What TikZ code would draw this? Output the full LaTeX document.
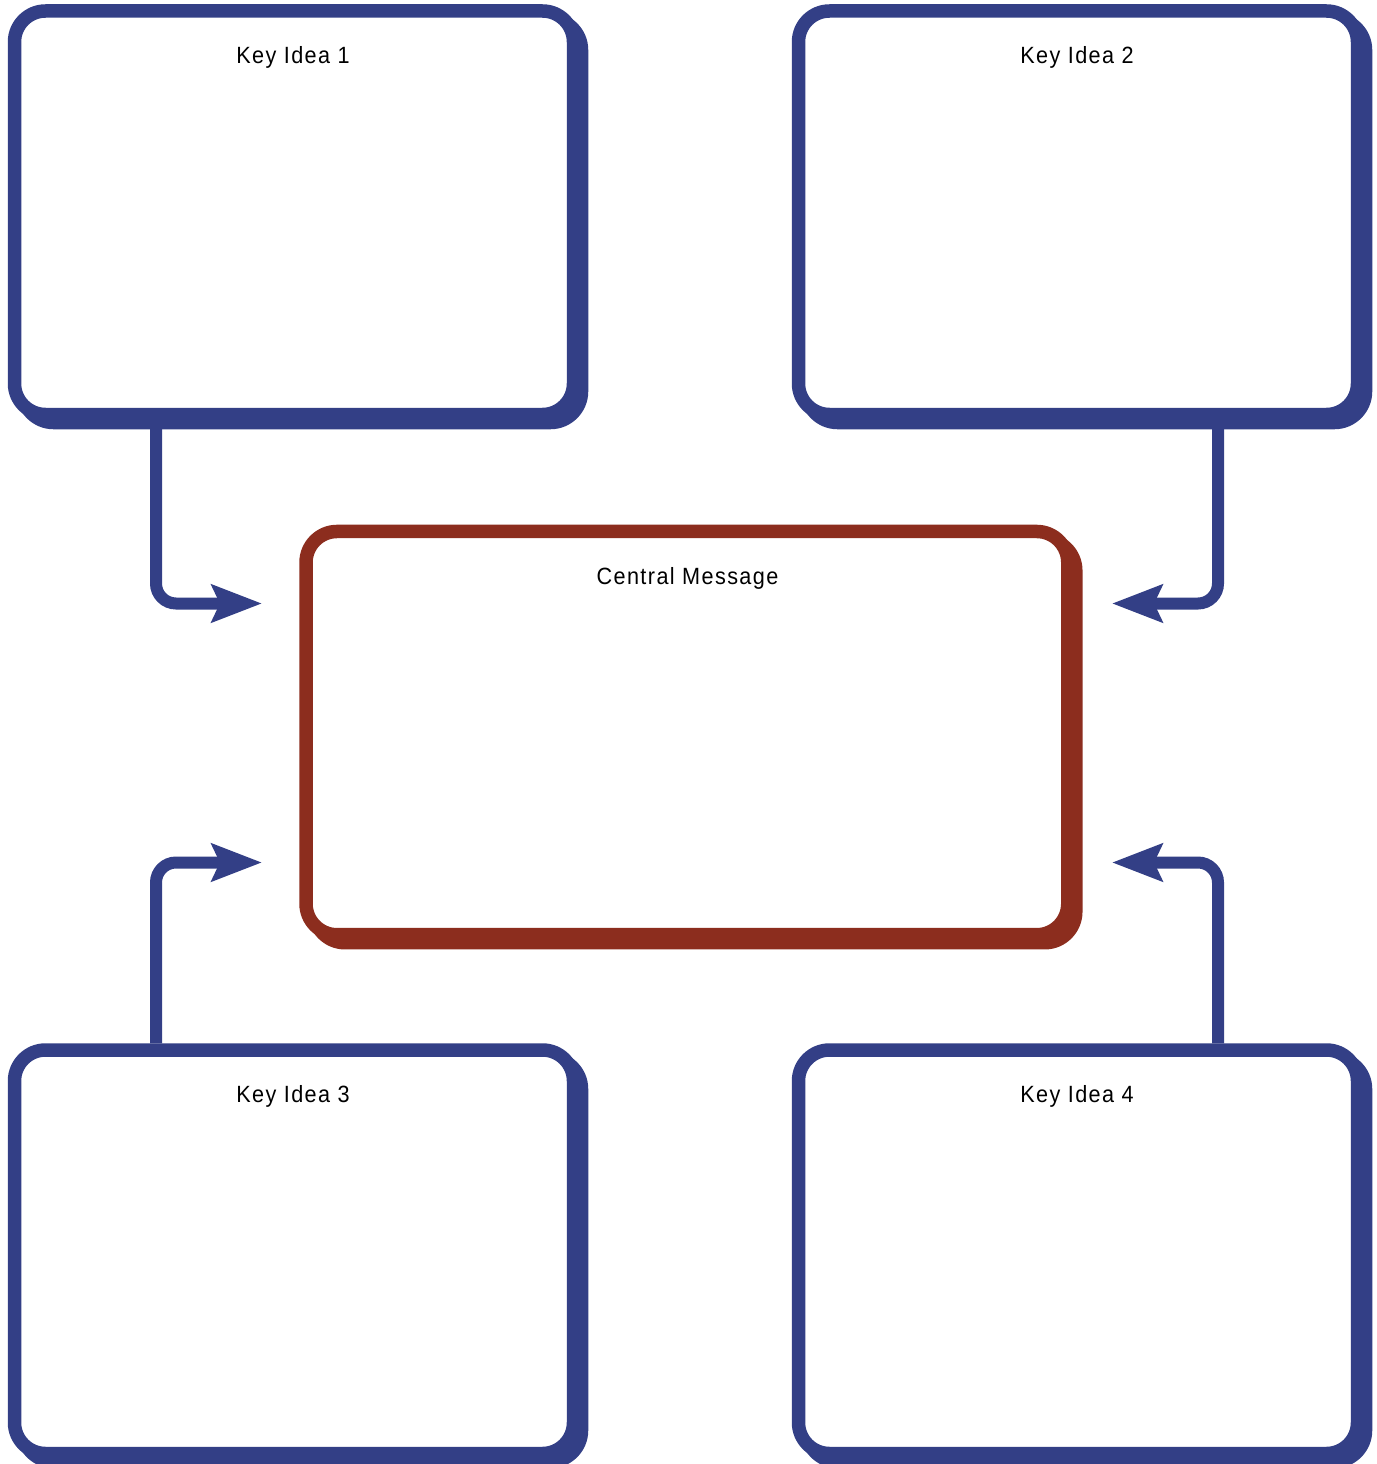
\documentclass[tikz,border=0pt]{standalone}
\usepackage{fontspec}
\setmainfont{Liberation Sans}[FakeStretch=0.92,LetterSpace=6]
\usetikzlibrary{arrows.meta}
\definecolor{ideablue}{HTML}{333F86}
\definecolor{msgred}{HTML}{8C2D1E}
\tikzset{
  shadowed/.style={preaction={draw=#1, line width=13.5pt, transform canvas={shift={(8pt,-8pt)}}}},
  ideabox/.style={shadowed=ideablue, draw=ideablue, fill=white, line width=13.5pt, rounded corners=31pt,
    rectangle, inner sep=0pt, minimum width=559pt, minimum height=403.5pt},
  msgbox/.style={shadowed=msgred, draw=msgred, fill=white, line width=13.5pt, rounded corners=31pt,
    rectangle, inner sep=0pt, minimum width=761.75pt, minimum height=403.25pt},
  title/.style={anchor=base, inner sep=0pt, font=\fontsize{23.5}{28}\selectfont},
  conn/.style={draw=ideablue, line width=12pt, sharp corners,
    -{Stealth[length=50pt, width=37pt, inset=8pt]}},
}
\begin{document}
\begin{tikzpicture}[x=1pt, y=-1pt]
\useasboundingbox (0,0) rectangle (1376,1464);
\node[ideabox] (k1) at (294,212.75) {};
\node[ideabox] (k2) at (1078,212.75) {};
\node[ideabox] (k3) at (294,1251.75) {};
\node[ideabox] (k4) at (1078,1251.75) {};
\node[msgbox] (cm) at (686.9,733.1) {};
\node[title] (k1t) at (293,63.5) {Key Idea 1};
\node[title] (k2t) at (1077,63.5) {Key Idea 2};
\node[title] (k3t) at (293,1102.5) {Key Idea 3};
\node[title] (k4t) at (1077,1102.5) {Key Idea 4};
\node[title] (cmt) at (687.5,584.5) {Central Message};
\coordinate (cl) at (156,0);
\coordinate (cr) at (1218,0);
\coordinate (t1) at (262,603.5);
\coordinate (t2) at (1112,603.5);
\coordinate (t3) at (262,862.5);
\coordinate (t4) at (1112,862.5);
\draw[conn] (k1.south -| cl) {[rounded corners=20pt] |- (t1)};
\draw[conn] (k2.south -| cr) {[rounded corners=20pt] |- (t2)};
\draw[conn] (k3.north -| cl) {[rounded corners=20pt] |- (t3)};
\draw[conn] (k4.north -| cr) {[rounded corners=20pt] |- (t4)};
\end{tikzpicture}
\end{document}
